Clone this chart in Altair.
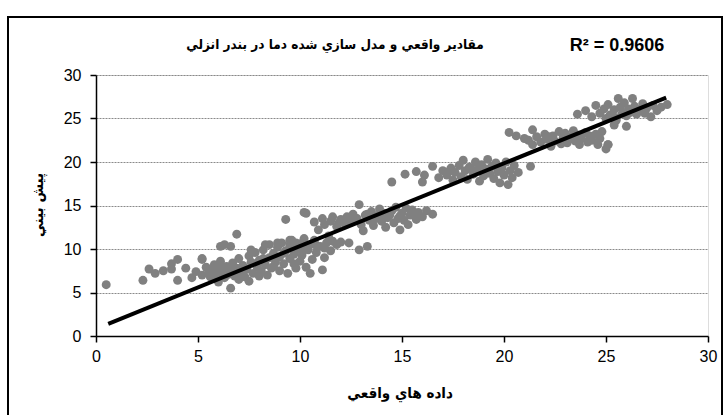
import altair as alt
import pandas as pd

# ---- data (actual, predicted) ----
cluster_low = [(0.5, 5.9), (2.3, 6.4), (2.6, 7.7), (2.9, 7.2), (3.3, 7.5), (3.7, 8.3), (3.7, 7.7),
               (4.0, 6.4), (4.0, 8.8), (4.4, 7.8), (4.7, 6.7), (4.9, 7.4), (5.2, 8.8), (5.4, 7.9),
               (5.2, 7.0), (5.2, 8.9)]
cluster_5_12 = [(5.5, 7.2), (5.6, 6.8), (5.7, 7.6), (5.8, 8.2), (5.9, 7.0), (6.0, 6.2), (6.0, 7.8),
                (6.1, 8.6), (6.2, 7.3), (6.3, 6.7), (6.4, 8.0), (6.5, 7.1), (6.6, 5.5), (6.6, 7.6),
                (6.7, 8.4), (6.8, 6.9), (6.9, 7.8), (7.0, 8.9), (7.0, 6.5), (7.1, 7.4), (7.2, 8.1),
                (7.3, 6.8), (7.4, 7.7), (7.5, 9.2), (7.5, 6.3), (7.6, 8.5), (7.7, 7.2), (7.8, 9.6),
                (7.9, 7.9), (8.0, 6.9), (8.0, 8.7), (8.1, 7.5), (8.2, 9.9), (8.3, 8.2), (8.4, 7.0),
                (8.5, 9.0), (8.5, 10.5), (8.6, 7.8), (8.7, 9.5), (8.8, 8.5), (8.9, 10.2), (9.0, 7.5),
                (9.0, 9.1), (9.1, 10.7), (9.2, 8.3), (9.3, 9.8), (9.4, 7.2), (9.5, 10.4), (9.5, 8.9),
                (9.6, 11.0), (9.7, 9.4), (9.8, 7.8), (9.9, 10.0), (10.0, 8.6), (10.0, 10.6),
                (10.1, 9.3), (10.2, 11.2), (10.3, 7.9), (10.4, 9.9), (10.5, 10.5), (10.5, 7.2),
                (10.6, 8.8), (10.7, 11.0), (10.8, 9.6), (11.0, 10.3), (11.1, 7.6), (11.2, 9.0),
                (11.3, 10.7), (11.4, 11.5), (11.5, 9.8), (11.6, 10.9), (11.8, 10.5), (12.0, 10.8),
                (12.4, 10.7), (12.9, 9.9), (13.3, 10.3), (6.1, 10.3), (6.3, 10.5), (6.6, 10.3),
                (6.9, 11.7), (7.6, 9.9), (8.3, 10.5), (8.9, 10.7), (9.5, 11.0), (9.8, 10.7),
                (5.8, 7.4), (6.2, 8.0), (6.8, 7.5), (7.2, 7.0), (7.8, 8.3), (8.2, 8.9), (8.7, 8.0),
                (9.2, 9.5), (9.7, 8.3), (10.2, 10.0), (10.8, 10.4), (11.2, 10.1)]
cluster_11_16 = [(9.3, 13.4), (10.3, 14.1), (10.2, 14.2), (10.7, 13.1), (11.1, 13.5), (11.6, 13.7),
                 (10.9, 12.2), (11.2, 12.8), (11.5, 13.2), (11.8, 12.6), (12.0, 13.4), (12.2, 12.9),
                 (12.3, 13.7), (12.5, 13.1), (12.6, 14.0), (12.8, 13.5), (12.9, 15.1), (13.0, 12.8),
                 (13.1, 12.1), (13.2, 13.9), (13.4, 13.3), (13.5, 14.3), (13.6, 12.7), (13.8, 13.8),
                 (13.9, 14.6), (14.0, 13.2), (14.1, 14.1), (14.2, 12.5), (14.3, 13.6), (14.5, 14.4),
                 (14.6, 13.0), (14.7, 14.8), (14.8, 13.5), (14.9, 12.2), (15.0, 14.1), (15.1, 13.3),
                 (15.2, 14.7), (15.3, 12.8), (15.4, 13.9), (15.5, 14.5), (15.7, 13.4), (15.8, 14.2),
                 (16.0, 13.7), (16.2, 14.4), (16.5, 14.0), (12.7, 13.3), (13.3, 14.0), (14.4, 13.9),
                 (11.9, 13.0), (12.4, 13.5), (13.7, 13.5), (14.9, 13.8), (15.6, 13.9)]
cluster_17_21 = [(14.5, 17.7), (15.15, 18.6), (15.7, 18.9), (16.1, 18.5), (16.5, 19.5), (16.0, 17.7),
                 (16.8, 18.2), (17.0, 19.0), (17.2, 18.5), (17.4, 19.3), (17.5, 17.9), (17.6, 18.8),
                 (17.8, 19.6), (17.9, 18.3), (18.0, 20.2), (18.1, 19.0), (18.2, 18.0), (18.3, 19.4),
                 (18.5, 18.6), (18.6, 20.0), (18.7, 19.1), (18.8, 17.8), (18.9, 19.7), (19.0, 18.4),
                 (19.1, 19.2), (19.2, 20.3), (19.3, 18.7), (19.4, 19.5), (19.5, 18.1), (19.6, 19.9),
                 (19.7, 18.9), (19.8, 17.6), (19.9, 19.3), (20.0, 18.5), (20.1, 20.0), (20.2, 17.4),
                 (20.3, 19.0), (20.4, 18.2), (20.5, 19.6), (20.7, 18.8), (21.3, 19.5), (17.3, 18.9),
                 (18.4, 19.2), (19.8, 19.4)]
cluster_21_25 = [(20.25, 23.4), (21.0, 22.7), (21.4, 23.7), (20.6, 23.0), (21.2, 22.5), (21.4, 22.0),
                 (21.6, 22.9), (21.8, 22.3), (22.0, 23.2), (22.1, 22.6), (22.3, 21.8), (22.4, 23.0),
                 (22.5, 22.4), (22.7, 23.5), (22.8, 22.1), (22.9, 22.8), (23.0, 23.3), (23.1, 22.2),
                 (23.3, 22.9), (23.4, 23.6), (23.5, 22.4), (23.6, 23.1), (23.7, 22.0), (23.8, 22.7),
                 (24.0, 23.4), (24.1, 22.3), (24.2, 23.0), (24.3, 22.5), (24.5, 23.2), (24.6, 22.0),
                 (24.7, 22.7), (24.8, 23.5), (25.0, 21.5), (25.1, 22.0), (22.2, 22.9), (23.2, 22.6)]
cluster_24_28 = [(23.6, 25.5), (24.0, 25.9), (24.3, 25.2), (24.5, 26.5), (24.7, 25.6), (24.9, 26.1),
                 (25.0, 25.0), (25.1, 26.6), (25.2, 25.4), (25.4, 26.0), (25.5, 25.1), (25.6, 27.3),
                 (25.7, 26.3), (25.8, 25.6), (25.9, 26.8), (26.0, 25.3), (26.1, 26.1), (26.2, 25.7),
                 (26.3, 27.3), (26.4, 26.4), (26.5, 25.5), (26.6, 26.0), (26.8, 26.7), (26.9, 25.6),
                 (27.0, 26.2), (27.2, 25.2), (27.3, 26.5), (27.5, 25.9), (27.7, 26.3), (28.0, 26.6),
                 (26.0, 24.1), (25.4, 24.25), (25.1, 22.0), (25.5, 24.8)]

trend_actual = [0.6, 27.95]
trend_predicted = [1.4, 27.4]

axis_ticks = [0, 5, 10, 15, 20, 25, 30]

title_text = "مقادير واقعي و مدل سازي شده دما در بندر انزلي"
r2_text = "R² = 0.9606"
x_title = "داده هاي واقعي"
y_title = "پيش بيني"

points = cluster_low + cluster_5_12 + cluster_11_16 + cluster_17_21 + cluster_21_25 + cluster_24_28
df = pd.DataFrame(points, columns=["actual", "predicted"])
trend = pd.DataFrame({"actual": trend_actual, "predicted": trend_predicted})

W, H = 612, 261

xscale = alt.Scale(domain=[0, 30], nice=False)
yscale = alt.Scale(domain=[0, 30], nice=False)

x_axis = alt.Axis(values=axis_ticks, title=None, grid=False, tickSize=6, tickColor="black",
                  domainColor="black", domainWidth=1.5, tickWidth=1.5,
                  labelFont="Liberation Sans", labelFontSize=16, labelColor="black", labelPadding=6,
                  labelFlush=False)
y_axis = alt.Axis(values=axis_ticks, title=None, grid=True, gridColor="#8a8a8a", gridDash=[2, 1],
                  gridWidth=1, tickSize=6, tickColor="black", domainColor="black", domainWidth=1.5,
                  tickWidth=1.5, labelFont="Liberation Sans", labelFontSize=16, labelColor="black",
                  labelPadding=9)

pts = alt.Chart(df).mark_circle(size=80, color="#808080", opacity=1).encode(
    x=alt.X("actual:Q", scale=xscale, axis=x_axis),
    y=alt.Y("predicted:Q", scale=yscale, axis=y_axis),
)

line = alt.Chart(trend).mark_line(color="black", strokeWidth=4).encode(
    x=alt.X("actual:Q", scale=xscale),
    y=alt.Y("predicted:Q", scale=yscale),
)

def label(txt, x, y, size, font, angle=0):
    props = dict(font=font, fontSize=size, fontWeight="bold", color="black",
                 align="center", baseline="middle")
    if angle:
        props["angle"] = angle
    return alt.Chart(pd.DataFrame({"t": [txt]})).mark_text(**props).encode(
        text="t:N", x=alt.value(x), y=alt.value(y))

title_mark = label(title_text, 239, -30, 13.5, "DejaVu Sans Condensed")
r2_mark = label(r2_text, 521, -29, 18, "Liberation Sans")
xt_mark = label(x_title, 304, 318, 15, "DejaVu Sans Condensed")
yt_mark = label(y_title, -58, 130, 15, "DejaVu Sans Condensed", angle=270)

border = alt.Chart(pd.DataFrame({"t": [0]})).mark_rect(
    fill=None, stroke="black", strokeWidth=2).encode(
    x=alt.value(-88), x2=alt.value(626), y=alt.value(-58), y2=alt.value(360))

chart = alt.layer(pts, line, title_mark, r2_mark, xt_mark, yt_mark, border).properties(
    width=W, height=H,
    padding={"left": 96, "top": 75, "right": 17, "bottom": 79},
    autosize=alt.AutoSizeParams(type="none"),
).configure_view(stroke="#8c8c8c", strokeWidth=1.5).configure(background="white")

chart.save("out.html", embed_options={"renderer": "svg", "actions": False})
